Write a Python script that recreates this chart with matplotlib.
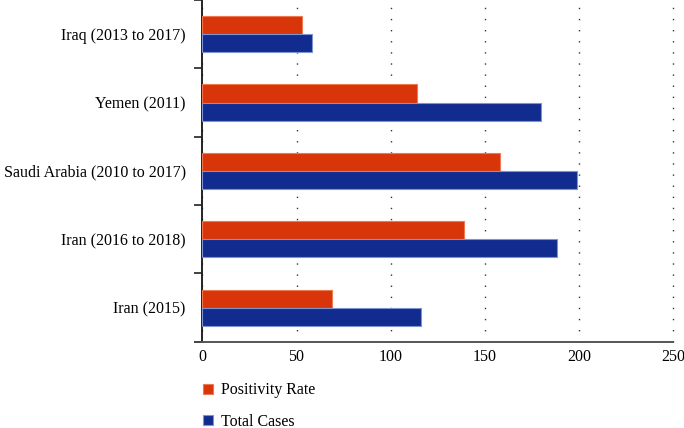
import numpy as np
import matplotlib.pyplot as plt

# Data (bottom to top as drawn)
categories = ["Iran (2015)", "Iran (2016 to 2018)", "Saudi Arabia (2010 to 2017)",
              "Yemen (2011)", "Iraq (2013 to 2017)"]
positivity_rate = [69, 139, 158, 114, 53]
total_cases = [116, 188, 199, 180, 58]
x_ticks = [0, 50, 100, 150, 200, 250]

ORANGE = "#D8350A"
BLUE = "#112C8E"

plt.rcParams["font.family"] = "serif"
plt.rcParams["font.serif"] = ["Liberation Serif", "DejaVu Serif"]
FS = 11.5

fig = plt.figure(figsize=(6.84, 4.28), dpi=100)
ax = fig.add_axes([0.2958, 0.2016, 0.6886, 0.7984])

y = np.arange(len(categories))
h = 0.264
ax.barh(y + h / 2, positivity_rate, height=h, color=ORANGE,
        edgecolor="#F07850", linewidth=0.8, label="Positivity Rate", zorder=3)
ax.barh(y - h / 2, total_cases, height=h, color=BLUE,
        edgecolor="#7F93CF", linewidth=0.8, label="Total Cases", zorder=3)

ax.set_xlim(0, 250)
ax.set_ylim(-0.5, len(categories) - 0.5)

# category boundaries carry the tick marks, labels sit at centers
ax.set_yticks(np.arange(len(categories) + 1) - 0.5)
ax.set_yticklabels([])
ax.set_yticks(y, minor=True)
ax.set_yticklabels(categories, minor=True, fontsize=FS, family="serif")
ax.tick_params(axis="y", which="major", length=5.5, width=1.2, color="#222222")
ax.tick_params(axis="y", which="minor", length=0, pad=12)

ax.set_xticks(x_ticks)
ax.set_xticklabels([str(v) for v in x_ticks], fontsize=FS, family="serif")
ax.tick_params(axis="x", length=0, pad=5)

ax.grid(axis="x", color="#333333", linestyle=(0, (1, 7)), linewidth=1.0,
        zorder=0, clip_on=False)

for side in ["top", "right"]:
    ax.spines[side].set_visible(False)
ax.spines["left"].set_linewidth(1.4)
ax.spines["left"].set_color("#222222")
ax.spines["bottom"].set_linewidth(1.4)
ax.spines["bottom"].set_color("#555555")

fig.legend(loc="upper left", bbox_to_anchor=(0.276, 0.14), frameon=False,
           prop={"family": "serif", "size": FS}, handlelength=0.6,
           handleheight=0.6, handletextpad=0.5, labelspacing=0.95)

fig.savefig("out.png", dpi=100)
